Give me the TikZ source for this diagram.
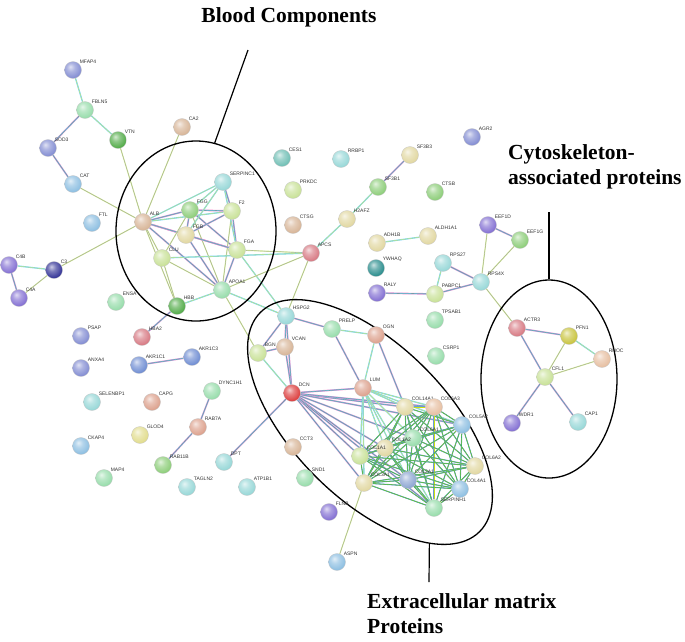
\documentclass[tikz,border=0pt]{standalone}
\usepackage{fontspec}
\setmainfont{Liberation Serif}
\newfontfamily\lblfont{Liberation Sans}
\usetikzlibrary{shapes.geometric,backgrounds}

\definecolor{cMint}{RGB}{150,220,170}
\definecolor{cGreen}{RGB}{80,170,70}
\definecolor{cGreenL}{RGB}{140,205,120}
\definecolor{cYelG}{RGB}{200,225,150}
\definecolor{cBeige}{RGB}{225,215,160}
\definecolor{cTan}{RGB}{215,180,150}
\definecolor{cSalmon}{RGB}{220,160,140}
\definecolor{cPeach}{RGB}{230,190,160}
\definecolor{cRose}{RGB}{215,120,130}
\definecolor{cRed}{RGB}{220,60,60}
\definecolor{cYell}{RGB}{225,220,140}
\definecolor{cOlive}{RGB}{200,195,60}
\definecolor{cAqua}{RGB}{150,215,215}
\definecolor{cSky}{RGB}{140,190,225}
\definecolor{cTeal}{RGB}{110,190,180}
\definecolor{cDTeal}{RGB}{40,140,140}
\definecolor{cBlueP}{RGB}{130,140,210}
\definecolor{cBlue}{RGB}{110,140,210}
\definecolor{cPurp}{RGB}{130,110,210}
\definecolor{cNavy}{RGB}{50,50,150}
\definecolor{cSteel}{RGB}{140,165,210}

% glossy sphere for the protein nodes
\colorlet{pball}{white}
\pgfdeclareradialshading[pball]{protball}{\pgfqpoint{-8bp}{10bp}}{%
  color(0bp)=(pball!25!white); color(12bp)=(pball!65!white);
  color(30bp)=(pball); color(44bp)=(pball!88!black);
  color(54bp)=(pball!68!black); color(70bp)=(pball!50!black)}

\begin{document}
\begin{tikzpicture}[
        x=1pt, y=-1pt,
        prot/.style={circle, minimum size=17pt, inner sep=0pt, /utils/exec={\colorlet{pball}{#1}}, shading=protball, draw=gray!45, line width=0.3pt},
        plbl/.style={font=\lblfont\fontsize{5}{6}\selectfont, inner sep=0.5pt, text=black!80},
        grp/.style={draw, ellipse, line width=1.3pt, inner sep=0pt},
        lead/.style={line width=1.2pt},
        ttl/.style={font=\bfseries\fontsize{21.5}{25}\selectfont, inner sep=0pt},
        lnk/.style={line width=1.1pt, draw=yellow!60!green!45, postaction={draw=gray!75, line width=0.3pt}},
        lnkc/.style={line width=1.3pt, draw=cyan!55, postaction={draw=yellow!70!green!60, line width=0.4pt}},
        lnkm/.style={line width=1.6pt, draw=magenta!45, postaction={draw=cyan!60, line width=0.9pt}, postaction={draw=black!50, line width=0.3pt}},
        lnkd/.style={line width=1.1pt, draw=cyan!50!blue!60, postaction={draw=teal!70!green, line width=0.5pt}, postaction={draw=yellow!80!green, line width=0.2pt}}
    ]
        \useasboundingbox (0,0) rectangle (685,641);

        % Group outlines
        \node[grp, minimum width=160pt, minimum height=180pt] (bloodgrp) at (196,231) {};
        \node[grp, minimum width=136pt, minimum height=198pt] (cytogrp) at (549,379) {};
        \node[grp, minimum width=310pt, minimum height=154pt, rotate=-45] (ecmgrp) at (370,422) {};

        % Group titles
        \node[ttl, anchor=base] (bloodttl) at (289,22) {Blood Components};
        \node[ttl, anchor=base west] (cytottl) at (508,159) {Cytoskeleton-};
        \node[ttl, anchor=base west] (cytottlb) at (508,184) {associated proteins};
        \node[ttl, anchor=base west] (ecmttl) at (367,608) {Extracellular matrix};
        \node[ttl, anchor=base west] (ecmttlb) at (367,633) {Proteins};

        \coordinate (bloodtip) at (248,50);
        \coordinate (cytotip) at (549,212);
        \coordinate (ecmtip) at (429,582);
        \draw[lead] (bloodgrp.78) -- (bloodtip);
        \draw[lead] (cytogrp.north) -- (cytotip);
        \draw[lead] (ecmgrp.-19) -- (ecmtip);

        % Proteins, left part
        \node[prot=cBlueP, label={[plbl]45:MFAP4}] (mfap4) at (73,70) {};
        \node[prot=cMint, label={[plbl]45:FBLN5}] (fbln5) at (85,110) {};
        \node[prot=cGreen, label={[plbl]45:VTN}] (vtn) at (118,140) {};
        \node[prot=cBlueP, label={[plbl]45:SOD3}] (sod3) at (48,148) {};
        \node[prot=cSky, label={[plbl]45:CAT}] (cat) at (73,184) {};
        \node[prot=cTan, label={[plbl]45:CA2}] (ca2) at (182,127) {};
        \node[prot=cSky, label={[plbl]45:FTL}] (ftl) at (92,223) {};
        \node[prot=cTan, label={[plbl]45:ALB}] (alb) at (143,222) {};
        \node[prot=cAqua, label={[plbl]45:SERPINC1}] (serpinc1) at (223,182) {};
        \node[prot=cGreenL, label={[plbl]45:FGG}] (fgg) at (190,210) {};
        \node[prot=cYelG, label={[plbl]45:F2}] (f2) at (232,211) {};
        \node[prot=cBeige, label={[plbl]45:FGB}] (fgb) at (186,235) {};
        \node[prot=cYelG, label={[plbl]45:FGA}] (fga) at (237,250) {};
        \node[prot=cYelG, label={[plbl]45:CLU}] (clu) at (162,258) {};
        \node[prot=cRose, label={[plbl]45:APCS}] (apcs) at (311,253) {};
        \node[prot=cMint, label={[plbl]45:APOA1}] (apoa1) at (222,290) {};
        \node[prot=cGreen, label={[plbl]45:HBB}] (hbb) at (177,306) {};
        \node[prot=cMint, label={[plbl]45:ENSA}] (ensa) at (116,302) {};
        \node[prot=cRose, label={[plbl]45:HBA2}] (hba2) at (142,337) {};
        \node[prot=cPurp, label={[plbl]45:C4B}] (c4b) at (9,265) {};
        \node[prot=cNavy, label={[plbl]45:C3}] (c3) at (54,270) {};
        \node[prot=cPurp, label={[plbl]45:C4A}] (c4a) at (19,298) {};
        \node[prot=cBlueP, label={[plbl]45:PSAP}] (psap) at (81,336) {};
        \node[prot=cBlueP, label={[plbl]45:ANXA4}] (anxa4) at (81,368) {};
        \node[prot=cBlue, label={[plbl]45:AKR1C1}] (akr1c1) at (139,365) {};
        \node[prot=cBlue, label={[plbl]45:AKR1C3}] (akr1c3) at (192,357) {};
        \node[prot=cAqua, label={[plbl]45:SELENBP1}] (selenbp1) at (92,402) {};
        \node[prot=cSalmon, label={[plbl]45:CAPG}] (capg) at (152,402) {};
        \node[prot=cMint, label={[plbl]45:DYNC1H1}] (dync1h1) at (212,391) {};
        \node[prot=cSalmon, label={[plbl]45:RAB7A}] (rab7a) at (198,427) {};
        \node[prot=cYell, label={[plbl]45:GLOD4}] (glod4) at (140,435) {};
        \node[prot=cSky, label={[plbl]45:CKAP4}] (ckap4) at (81,446) {};
        \node[prot=cGreenL, label={[plbl]45:RAB11B}] (rab11b) at (163,465) {};
        \node[prot=cAqua, label={[plbl]45:DPT}] (dpt) at (224,462) {};
        \node[prot=cMint, label={[plbl]45:MAP4}] (map4) at (104,478) {};
        \node[prot=cAqua, label={[plbl]45:TAGLN2}] (tagln2) at (187,487) {};
        \node[prot=cAqua, label={[plbl]45:ATP1B1}] (atp1b1) at (247,487) {};

        % Proteins, upper right part
        \node[prot=cTeal, label={[plbl]45:CES1}] (ces1) at (282,158) {};
        \node[prot=cAqua, label={[plbl]45:RRBP1}] (rrbp1) at (341,159) {};
        \node[prot=cYelG, label={[plbl]45:PRKDC}] (prkdc) at (293,190) {};
        \node[prot=cTan, label={[plbl]45:CTSG}] (ctsg) at (293,225) {};
        \node[prot=cBeige, label={[plbl]45:SF3B3}] (sf3b3) at (410,155) {};
        \node[prot=cGreenL, label={[plbl]45:SF3B1}] (sf3b1) at (378,187) {};
        \node[prot=cBlueP, label={[plbl]45:AGR2}] (agr2) at (472,137) {};
        \node[prot=cGreenL, label={[plbl]45:CTSB}] (ctsb) at (435,192) {};
        \node[prot=cBeige, label={[plbl]45:H2AFZ}] (h2afz) at (347,219) {};
        \node[prot=cBeige, label={[plbl]45:ADH1B}] (adh1b) at (377,243) {};
        \node[prot=cBeige, label={[plbl]45:ALDH1A1}] (aldh1a1) at (428,236) {};
        \node[prot=cDTeal, label={[plbl]45:YWHAQ}] (ywhaq) at (376,268) {};
        \node[prot=cAqua, label={[plbl]45:RPS27}] (rps27) at (443,263) {};
        \node[prot=cPurp, label={[plbl]45:RALY}] (raly) at (377,293) {};
        \node[prot=cYelG, label={[plbl]45:PABPC1}] (pabpc1) at (435,294) {};
        \node[prot=cMint, label={[plbl]45:TPSAB1}] (tpsab1) at (435,320) {};
        \node[prot=cMint, label={[plbl]45:CSRP1}] (csrp1) at (436,356) {};
        \node[prot=cPurp, label={[plbl]45:EEF1D}] (eef1d) at (488,225) {};
        \node[prot=cGreenL, label={[plbl]45:EEF1G}] (eef1g) at (520,240) {};
        \node[prot=cAqua, label={[plbl]45:RPS4X}] (rps4x) at (481,282) {};

        % Cytoskeleton group
        \node[prot=cRose, label={[plbl]45:ACTR3}] (actr3) at (517,328) {};
        \node[prot=cOlive, label={[plbl]45:PFN1}] (pfn1) at (569,336) {};
        \node[prot=cPeach, label={[plbl]45:RHOC}] (rhoc) at (602,359) {};
        \node[prot=cYelG, label={[plbl]45:CFL1}] (cfl1) at (545,377) {};
        \node[prot=cPurp, label={[plbl]45:WDR1}] (wdr1) at (512,423) {};
        \node[prot=cAqua, label={[plbl]45:CAP1}] (cap1) at (578,422) {};

        % Extracellular matrix group
        \node[prot=cAqua, label={[plbl]45:HSPG2}] (hspg2) at (286,316) {};
        \node[prot=cMint, label={[plbl]45:PRELP}] (prelp) at (332,329) {};
        \node[prot=cSalmon, label={[plbl]45:OGN}] (ogn) at (376,335) {};
        \node[prot=cTan, label={[plbl]45:VCAN}] (vcan) at (285,347) {};
        \node[prot=cYelG, label={[plbl]45:BGN}] (bgn) at (258,353) {};
        \node[prot=cRed, label={[plbl]45:DCN}] (dcn) at (292,393) {};
        \node[prot=cSalmon, label={[plbl]45:LUM}] (lum) at (363,388) {};
        \node[prot=cTan, label={[plbl]45:CCT3}] (cct3) at (293,447) {};
        \node[prot=cMint, label={[plbl]45:SND1}] (snd1) at (305,478) {};
        \node[prot=cPurp, label={[plbl]45:FLNB}] (flnb) at (329,512) {};
        \node[prot=cSky, label={[plbl]45:ASPN}] (aspn) at (337,562) {};
        \node[prot=cBeige, label={[plbl]45:COL14A1}] (col14a1) at (405,407) {};
        \node[prot=cPeach, label={[plbl]45:COL6A3}] (col6a3) at (434,407) {};
        \node[prot=cSky, label={[plbl]45:COL5A2}] (col5a2) at (462,425) {};
        \node[prot=cMint, label={[plbl]45:COL6A1}] (col6a1) at (413,438) {};
        \node[prot=cBeige, label={[plbl]45:COL1A2}] (col1a2) at (385,448) {};
        \node[prot=cYelG, label={[plbl]45:COL1A1}] (col1a1) at (360,456) {};
        \node[prot=cBeige, label={[plbl]45:COL6A2}] (col6a2) at (475,466) {};
        \node[prot=cBeige, label={[plbl]45:COL3A1}] (col3a1) at (364,483) {};
        \node[prot=cSteel, label={[plbl]45:COL2A1}] (col2a1) at (408,480) {};
        \node[prot=cSky, label={[plbl]45:COL4A1}] (col4a1) at (460,489) {};
        \node[prot=cMint, label={[plbl]45:SERPINH1}] (serpinh1) at (434,508) {};

        % Interactions
        \begin{pgfonlayer}{background}
        \draw[lnkc] (mfap4) -- (fbln5);
        \draw[lnkm] (fbln5) -- (sod3);
        \draw[lnkc] (fbln5) -- (vtn);
        \draw[lnkm] (sod3) -- (cat);
        \draw[lnk] (cat) -- (alb);
        \draw[lnk] (vtn) -- (alb);
        \draw[lnk] (ca2) -- (alb);
        \draw[lnk] (c3) -- (alb);
        \draw[lnkc] (alb) -- (serpinc1);
        \draw[lnkm] (alb) -- (fgg);
        \draw[lnkc] (alb) -- (f2);
        \draw[lnkm] (alb) -- (fgb);
        \draw[lnkm] (alb) -- (fga);
        \draw[lnk] (alb) -- (clu);
        \draw[lnkm] (alb) -- (apoa1);
        \draw[lnk] (alb) -- (hbb);
        \draw[lnkc] (fgg) -- (serpinc1);
        \draw[lnkm] (fgg) -- (f2);
        \draw[lnkm] (fgg) -- (fgb);
        \draw[lnkm] (fgg) -- (fga);
        \draw[lnk] (fgg) -- (apoa1);
        \draw[lnkm] (f2) -- (serpinc1);
        \draw[lnkm] (f2) -- (fgb);
        \draw[lnkm] (f2) -- (fga);
        \draw[lnk] (f2) -- (apoa1);
        \draw[lnkc] (fgb) -- (serpinc1);
        \draw[lnkm] (fgb) -- (fga);
        \draw[lnkm] (fgb) -- (apoa1);
        \draw[lnkc] (serpinc1) -- (fga);
        \draw[lnkm] (fga) -- (apoa1);
        \draw[lnk] (fga) -- (apcs);
        \draw[lnkc] (fga) -- (hspg2);
        \draw[lnk] (clu) -- (apoa1);
        \draw[lnkc] (clu) -- (apcs);
        \draw[lnk] (clu) -- (hbb);
        \draw[lnk] (clu) -- (fgg);
        \draw[lnk] (apoa1) -- (apcs);
        \draw[lnkc] (apoa1) -- (hbb);
        \draw[lnkc] (apoa1) -- (hspg2);
        \draw[lnk] (apoa1) -- (bgn);
        \draw[lnkm] (hbb) -- (hba2);
        \draw[lnk] (apcs) -- (hspg2);
        \draw[lnkc] (apcs) -- (h2afz);
        \draw[lnkc] (c4b) -- (c3);
        \draw[lnkm] (c4b) -- (c4a);
        \draw[lnk] (c3) -- (c4a);
        \draw[lnkm] (akr1c1) -- (akr1c3);
        \draw[lnkm] (dync1h1) -- (rab7a);
        \draw[lnkm] (rab7a) -- (rab11b);
        \draw[lnkm] (sf3b3) -- (sf3b1);
        \draw[lnkc] (sf3b1) -- (h2afz);
        \draw[lnkc] (adh1b) -- (aldh1a1);
        \draw[lnkm] (raly) -- (pabpc1);
        \draw[lnkc] (pabpc1) -- (rps27);
        \draw[lnkm] (pabpc1) -- (rps4x);
        \draw[lnkm] (rps27) -- (rps4x);
        \draw[lnk] (rps4x) -- (eef1d);
        \draw[lnk] (rps4x) -- (eef1g);
        \draw[lnkm] (eef1d) -- (eef1g);
        \draw[lnk] (rps4x) -- (actr3);
        \draw[lnkm] (actr3) -- (pfn1);
        \draw[lnkm] (actr3) -- (cfl1);
        \draw[lnk] (pfn1) -- (cfl1);
        \draw[lnkc] (pfn1) -- (rhoc);
        \draw[lnk] (rhoc) -- (cfl1);
        \draw[lnkm] (cfl1) -- (wdr1);
        \draw[lnkm] (cfl1) -- (cap1);
        \draw[lnkm] (hspg2) -- (bgn);
        \draw[lnkm] (hspg2) -- (vcan);
        \draw[lnkm] (hspg2) -- (prelp);
        \draw[lnkm] (hspg2) -- (dcn);
        \draw[lnkm] (bgn) -- (vcan);
        \draw[lnkc] (bgn) -- (dcn);
        \draw[lnkm] (vcan) -- (dcn);
        \draw[lnkc] (prelp) -- (ogn);
        \draw[lnkm] (prelp) -- (lum);
        \draw[lnkc] (ogn) -- (lum);
        \draw[lnkm] (ogn) -- (col14a1);
        \draw[lnkm] (dcn) -- (lum);
        \draw[lnkm] (dcn) -- (dpt);
        \draw[lnk] (col3a1) -- (aspn);
        \foreach \b in {col14a1,col6a3,col5a2,col6a1,col1a2,col1a1,col3a1,col2a1,serpinh1}
            \draw[lnkm] (dcn) -- (\b);
        \foreach \b in {col14a1,col6a3,col5a2,col6a1,col1a2,col1a1,col3a1,col2a1,serpinh1}
            \draw[lnkc] (lum) -- (\b);
        \foreach \a [count=\i] in {col14a1,col6a3,col5a2,col6a1,col1a2,col1a1,col6a2,col3a1,col2a1,col4a1,serpinh1}
            \foreach \b [count=\j] in {col14a1,col6a3,col5a2,col6a1,col1a2,col1a1,col6a2,col3a1,col2a1,col4a1,serpinh1}
                {\ifnum\j>\i \draw[lnkd] (\a) -- (\b); \fi}
        \end{pgfonlayer}
\end{tikzpicture}
\end{document}
